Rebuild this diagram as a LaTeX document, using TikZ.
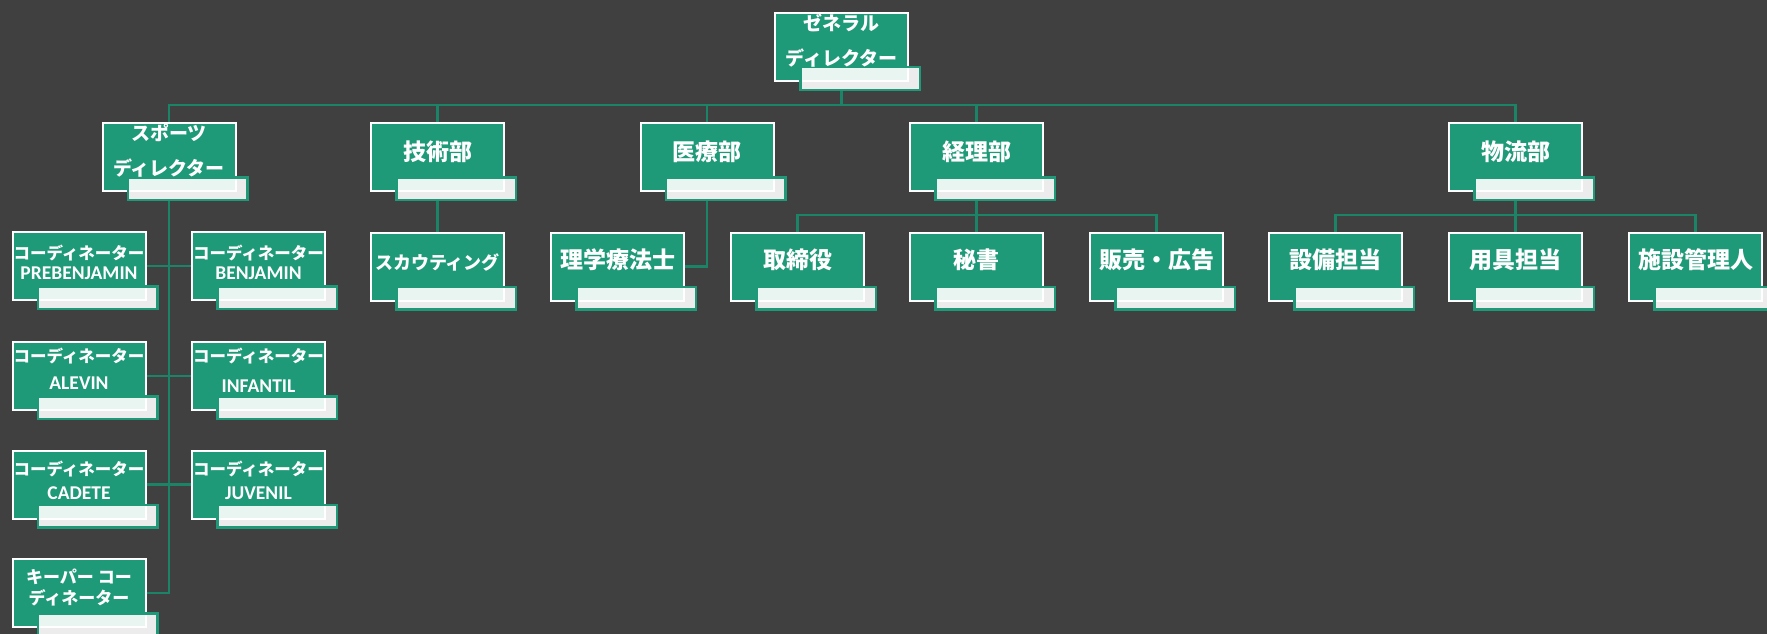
\documentclass[tikz,border=0pt]{standalone}
\usepackage{fontspec}
\newfontfamily\jpf{Noto Sans CJK JP}
\newfontfamily\latf{Carlito}
\usetikzlibrary{calc}
\definecolor{bgc}{HTML}{404040}
\definecolor{grn}{HTML}{1E9A78}
\definecolor{lgrn}{HTML}{1B8466}
\pgfdeclarelayer{bglayer}
\pgfdeclarelayer{lines}
\pgfsetlayers{bglayer,lines,main}
\begin{document}
\begin{tikzpicture}[x=1pt,y=-1pt,
  mbox/.style={draw=white, line width=2pt, fill=grn, minimum width=133pt, minimum height=68pt, inner sep=0pt},
  sbox/.style={draw=grn, line width=2.5pt, fill=white, fill opacity=0.9, minimum width=119.5pt, minimum height=22.5pt, inner sep=0pt},
  conn/.style={draw=lgrn, line width=2.5pt},
  txt/.style={text=white, align=center, inner sep=0pt},
  tbig/.style={txt, font=\jpf\bfseries\fontsize{23}{28}\selectfont},
  ttwo/.style={txt, font=\jpf\bfseries\fontsize{19}{35}\selectfont},
  tco/.style={txt, font=\jpf\bfseries\fontsize{16.5}{#1}\selectfont},
]
\useasboundingbox (0,0) rectangle (1767,634);
\begin{pgfonlayer}{bglayer}
\fill[bgc] (0,0) rectangle (1767,634);
\end{pgfonlayer}

% main boxes
\node[mbox] (gd) at (841.5,47) {};
\node[mbox] (sd) at (169,157) {};
\node[mbox] (tech) at (437.5,157) {};
\node[mbox] (med) at (707,157) {};
\node[mbox] (acc) at (976.5,157) {};
\node[mbox] (log) at (1515.5,157) {};
\node[mbox] (scout) at (437.5,266.5) {};
\node[mbox] (physio) at (617.5,266.5) {};
\node[mbox] (exec) at (797.5,266.5) {};
\node[mbox] (secr) at (976.5,266.5) {};
\node[mbox] (sales) at (1156.5,266.5) {};
\node[mbox] (equip) at (1335.5,266.5) {};
\node[mbox] (gear) at (1515.5,266.5) {};
\node[mbox] (facil) at (1695.5,266.5) {};
\node[mbox] (c1) at (79,266) {};
\node[mbox] (c2) at (258.5,266) {};
\node[mbox] (c3) at (79,376) {};
\node[mbox] (c4) at (258.5,376) {};
\node[mbox] (c5) at (79,484.5) {};
\node[mbox] (c6) at (258.5,484.5) {};
\node[mbox] (c7) at (79,593) {};

% secondary boxes
\foreach \n in {gd,sd,tech,med,acc,log,scout,physio,exec,secr,sales,equip,gear,facil,c1,c2,c3,c4,c5,c6,c7}
  \node[sbox] (\n-s) at ($(\n.south west)+(86,-3.5)$) {};

% texts
\node[ttwo] (gd-t) at ($(gd.center)+(0,-6.5)$) {ゼネラル\\ディレクター};
\node[ttwo] (sd-t) at ($(sd.center)+(0,-6.5)$) {スポーツ\\ディレクター};
\node[tbig] (tech-t) at ($(tech.center)+(0,-5)$) {技術部};
\node[tbig] (med-t) at ($(med.center)+(0,-5)$) {医療部};
\node[tbig] (acc-t) at ($(acc.center)+(0,-5)$) {経理部};
\node[tbig] (log-t) at ($(log.center)+(0,-5)$) {物流部};
\node[txt, font=\jpf\bfseries\fontsize{18}{22}\selectfont] (scout-t) at ($(scout.center)+(0,-4.5)$) {スカウティング};
\node[tbig] (physio-t) at ($(physio.center)+(0,-6.5)$) {理学療法士};
\node[tbig] (exec-t) at ($(exec.center)+(0,-6.5)$) {取締役};
\node[tbig] (secr-t) at ($(secr.center)+(0,-6.5)$) {秘書};
\node[tbig] (sales-t) at ($(sales.center)+(0,-6.5)$) {販売・広告};
\node[tbig] (equip-t) at ($(equip.center)+(0,-6.5)$) {設備担当};
\node[tbig] (gear-t) at ($(gear.center)+(0,-6.5)$) {用具担当};
\node[tbig] (facil-t) at ($(facil.center)+(0,-6.5)$) {施設管理人};
\node[tco=20] (c1-t) at (79,262) {コーディネーター\\{\latf\fontsize{19.5}{20}\selectfont PREBENJAMIN}};
\node[tco=20] (c2-t) at (258.5,262) {コーディネーター\\{\latf\fontsize{19.5}{20}\selectfont BENJAMIN}};
\node[tco=27] (c3-t) at (79,368.5) {コーディネーター\\{\latf\fontsize{19.5}{27}\selectfont ALEVIN}};
\node[tco=30] (c4-t) at (258.5,370) {コーディネーター\\{\latf\fontsize{19.5}{30}\selectfont INFANTIL}};
\node[tco=24] (c5-t) at (79,480) {コーディネーター\\{\latf\fontsize{19.5}{24}\selectfont CADETE}};
\node[tco=24] (c6-t) at (258.5,480) {コーディネーター\\{\latf\fontsize{19.5}{24}\selectfont JUVENIL}};
\node[txt, font=\jpf\bfseries\fontsize{17}{21}\selectfont] (c7-t) at (79,587.5) {キーパー コー\\ディネーター};

% connectors
\coordinate (bus1) at (0,105);
\coordinate (bus2) at (0,215);
\begin{pgfonlayer}{lines}
\foreach \n in {sd,tech,med,acc,log}
  \draw[conn] (gd |- gd-s.south) -- (gd |- bus1) -| (\n.north);
\draw[conn] (sd |- sd-s.south) |- (c7.east);
\draw[conn] (c1.east) -- (c2.west);
\draw[conn] (c3.east) -- (c4.west);
\draw[conn] (c5.east) -- (c6.west);
\draw[conn] (tech |- tech-s.south) -- (scout.north);
\draw[conn] (med |- med-s.south) |- (physio.east);
\foreach \n in {exec,secr,sales}
  \draw[conn] (acc |- acc-s.south) -- (acc |- bus2) -| (\n.north);
\foreach \n in {equip,gear,facil}
  \draw[conn] (log |- log-s.south) -- (log |- bus2) -| (\n.north);
\end{pgfonlayer}
\end{tikzpicture}
\end{document}
